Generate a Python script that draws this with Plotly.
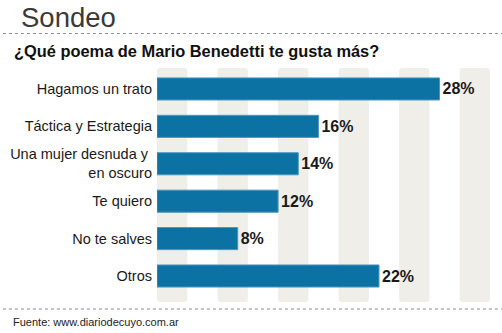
import plotly.graph_objects as go

categories = ["Hagamos un trato", "Táctica y Estrategia", "Una mujer desnuda y\u00a0<br>en oscuro",
              "Te quiero", "No te salves", "Otros"]
values = [28, 16, 14, 12, 8, 22]

title_text = "Sondeo"
question_text = "¿Qué poema de Mario Benedetti te gusta más?"
source_text = "Fuente: www.diariodecuyo.com.ar"

W, H = 502, 333
ML, MR, MT, MB = 155, 10, 68, 31
PW, PH = W - ML - MR, H - MT - MB
XMAX = 33.2

def px(xp):
    return (xp - ML) / PW

def py(yp):
    return (H - MB - yp) / PH

FONT = "Liberation Sans"
BAR = "#0b72a3"
STRIPE = "#efeee9"

fig = go.Figure()
fig.add_trace(go.Bar(
    x=values, y=categories, orientation="h",
    marker=dict(color=BAR, line=dict(color="#4b97c2", width=1)),
    width=0.59,
    text=[f"{v}%" for v in values],
    textposition="outside",
    textfont=dict(family=FONT, size=16, color="#1a1a1a", weight="bold"),
    cliponaxis=False,
    hoverinfo="skip",
))

shapes = []
# rounded background stripes
rx = 3 / (PW / XMAX)
ry = 3 / PH
k = 0
while k * 6 < XMAX:
    x0, x1 = k * 6, k * 6 + 3
    y0, y1 = 0, 1
    path = (f"M {x0+rx},{y1} L {x1-rx},{y1} Q {x1},{y1} {x1},{y1-ry} "
            f"L {x1},{y0+ry} Q {x1},{y0} {x1-rx},{y0} L {x0+rx},{y0} "
            f"Q {x0},{y0} {x0},{y0+ry} L {x0},{y1-ry} Q {x0},{y1} {x0+rx},{y1} Z")
    shapes.append(dict(type="path", path=path, xref="x", yref="paper",
                       fillcolor=STRIPE, line=dict(width=0), layer="below"))
    k += 1

for yp in (33.5, 309):
    shapes.append(dict(type="line", xref="paper", yref="paper",
                       x0=px(0), x1=px(W), y0=py(yp), y1=py(yp),
                       line=dict(color="#8a8a8a", width=1, dash="dot")))

annotations = [
    dict(text=title_text, xref="paper", yref="paper", x=px(16), y=py(17),
         xanchor="left", yanchor="middle", showarrow=False,
         font=dict(family=FONT, size=27.5, color="#3a3a3a")),
    dict(text=question_text, xref="paper", yref="paper", x=px(9), y=py(51),
         xanchor="left", yanchor="middle", showarrow=False,
         font=dict(family=FONT, size=16.4, color="#111111", weight="bold")),
    dict(text=source_text, xref="paper", yref="paper", x=px(8), y=py(322),
         xanchor="left", yanchor="middle", showarrow=False,
         font=dict(family=FONT, size=11, color="#222222")),
]

fig.update_layout(
    width=W, height=H,
    margin=dict(l=ML, r=MR, t=MT, b=MB, pad=0),
    paper_bgcolor="white", plot_bgcolor="white",
    showlegend=False,
    shapes=shapes, annotations=annotations,
    xaxis=dict(range=[0, XMAX], visible=False, fixedrange=True),
    yaxis=dict(type="category", range=[5.695, -0.56], showgrid=False,
               zeroline=False, showline=False, ticks="", ticklabelstandoff=4,
               tickfont=dict(family=FONT, size=14.5, color="#1a1a1a"),
               fixedrange=True),
)

fig.write_html("out.html", config={"displayModeBar": False})
